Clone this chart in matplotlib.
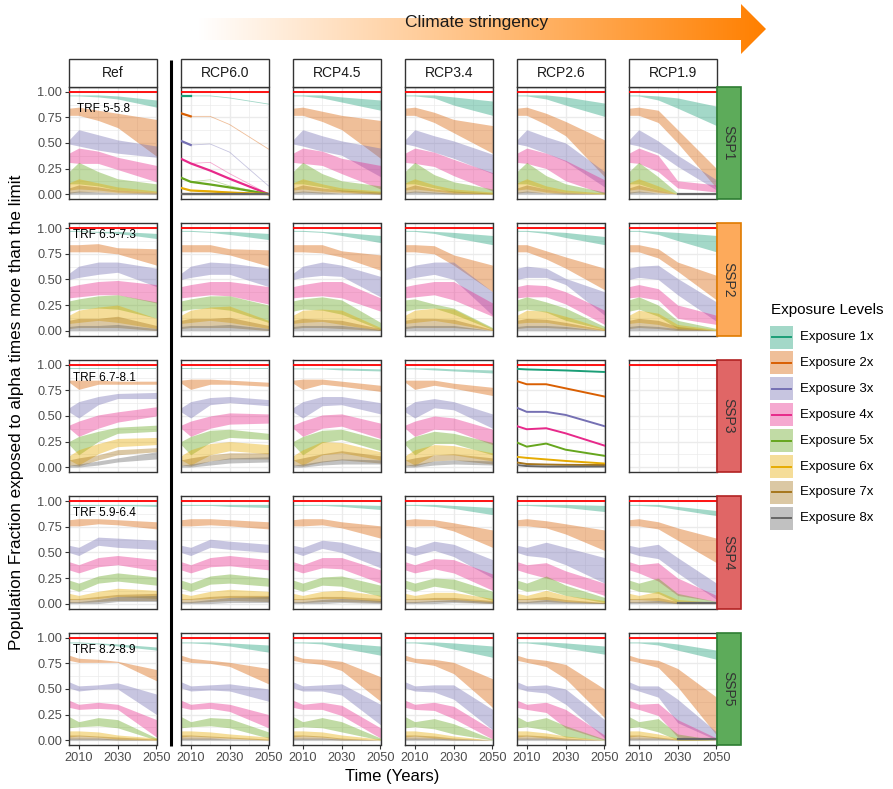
import numpy as np
import matplotlib
matplotlib.use("Agg")
from matplotlib import pyplot as plt
from matplotlib.patches import Rectangle, Polygon

plt.rcParams["font.family"] = ["Liberation Sans", "DejaVu Sans"]

W, H = 893, 789

years = [2005, 2010, 2020, 2030, 2050]
levels = ["Exposure 1x", "Exposure 2x", "Exposure 3x", "Exposure 4x",
          "Exposure 5x", "Exposure 6x", "Exposure 7x", "Exposure 8x"]
colors = ["#1B9E77", "#D95F02", "#7570B3", "#E7298A",
          "#66A61E", "#E6AB02", "#A6761D", "#666666"]
scenarios = ["Ref", "RCP6.0", "RCP4.5", "RCP3.4", "RCP2.6", "RCP1.9"]
ssps = ["SSP1", "SSP2", "SSP3", "SSP4", "SSP5"]
trf_labels = ["TRF 5-5.8", "TRF 6.5-7.3", "TRF 6.7-8.1", "TRF 5.9-6.4", "TRF 8.2-8.9"]
trf_x = [2009, 2007, 2007, 2007, 2007]
trf_y = [0.83, 0.93, 0.87, 0.89, 0.88]
strip_fill = ["#5DAB5A", "#FDAA5B", "#E06666", "#E06666", "#5DAB5A"]
strip_edge = ["#2E7D32", "#E07B00", "#B22222", "#B22222", "#2E7D32"]

# each band: (low, high) per exposure level over `years`
ssp1_ref = [
    ([.96, .96, .95, .93, .85], [.97, .97, .97, .96, .92]),
    ([.77, .77, .72, .65, .37], [.84, .85, .82, .79, .73]),
    ([.49, .47, .43, .40, .36], [.53, .63, .58, .53, .47]),
    ([.31, .30, .30, .24, .12], [.40, .45, .42, .36, .28]),
    ([.10, .10, .08, .04, .02], [.22, .31, .22, .15, .10]),
    ([.04, .05, .04, .02, .01], [.11, .15, .11, .07, .03]),
    ([.01, .02, .02, .01, .00], [.06, .09, .07, .04, .02]),
    ([.00, .00, .00, .00, .00], [.02, .03, .02, .01, .01]),
]
# single-model run: thin path plus thick segments
ssp1_rcp60_path = [
    [.96, .96, .96, .94, .88],
    [.79, .76, .76, .68, .44],
    [.52, .48, .49, .41, .08],
    [.345, .30, .31, .20, .00],
    [.16, .12, .14, .08, .00],
    [.06, .035, .03, .02, .00],
    [.00, .00, .00, .00, .00],
    [.00, .00, .00, .00, .00],
]
ssp1_rcp60_line = [
    [.96, .96, None, None, None],
    [.79, .76, None, None, None],
    [.52, .48, None, None, None],
    [.345, .30, .23, .15, .00],
    [.16, .12, .094, .065, .00],
    [.06, .035, .026, .015, .00],
    [.00, .00, .00, .00, .00],
    [.00, .00, .00, .00, .00],
]
ssp1_rcp45 = [
    ([.96, .96, .94, .90, .82], [.97, .97, .97, .95, .92]),
    ([.77, .77, .71, .63, .35], [.84, .85, .81, .77, .72]),
    ([.49, .47, .42, .38, .17], [.53, .63, .57, .52, .45]),
    ([.31, .30, .28, .20, .05], [.40, .45, .42, .35, .28]),
    ([.10, .10, .07, .03, .01], [.22, .31, .20, .13, .08]),
    ([.04, .05, .03, .02, .00], [.11, .15, .10, .06, .03]),
    ([.01, .02, .01, .01, .00], [.06, .09, .06, .04, .02]),
    ([.00, .00, .00, .00, .00], [.02, .03, .02, .01, .01]),
]
ssp1_rcp34 = [
    ([.96, .96, .94, .87, .77], [.97, .97, .97, .95, .91]),
    ([.77, .77, .70, .60, .40], [.84, .85, .80, .73, .67]),
    ([.49, .47, .41, .35, .20], [.53, .63, .57, .52, .39]),
    ([.31, .30, .27, .18, .03], [.40, .45, .41, .34, .21]),
    ([.10, .10, .06, .02, .00], [.22, .31, .19, .12, .05]),
    ([.04, .05, .03, .01, .00], [.11, .15, .09, .05, .02]),
    ([.01, .02, .01, .00, .00], [.06, .09, .05, .03, .01]),
    ([.00, .00, .00, .00, .00], [.02, .03, .02, .01, .00]),
]
ssp1_rcp26 = [
    ([.96, .96, .93, .87, .76], [.97, .97, .97, .95, .89]),
    ([.77, .77, .68, .57, .17], [.84, .85, .79, .71, .53]),
    ([.49, .47, .40, .32, .07], [.53, .63, .56, .50, .22]),
    ([.31, .30, .25, .13, .00], [.40, .45, .40, .33, .14]),
    ([.10, .10, .05, .02, .00], [.22, .31, .18, .10, .02]),
    ([.04, .05, .02, .01, .00], [.11, .15, .08, .04, .01]),
    ([.01, .02, .01, .00, .00], [.06, .09, .05, .02, .00]),
    ([.00, .00, .00, .00, .00], [.02, .03, .01, .01, .00]),
]
ssp1_rcp19 = [
    ([.96, .96, .92, .84, .67], [.97, .97, .96, .94, .86]),
    ([.77, .77, .70, .50, .06], [.84, .85, .82, .63, .25]),
    ([.49, .47, .40, .27, .04], [.53, .63, .52, .38, .14]),
    ([.31, .30, .22, .06, .02], [.40, .45, .38, .13, .09]),
    ([.10, .10, .04, .00, .00], [.22, .31, .17, .01, .00]),
    ([.04, .05, .02, .00, .00], [.11, .15, .08, .00, .00]),
    ([.01, .02, .01, .00, .00], [.06, .09, .04, .00, .00]),
    ([.00, .00, .00, .00, .00], [.02, .03, .01, .00, .00]),
]

ssp2_ref = [
    ([.97, .97, .96, .95, .90], [.98, .98, .97, .97, .95]),
    ([.77, .77, .77, .75, .64], [.84, .84, .85, .81, .80]),
    ([.50, .52, .55, .57, .43], [.56, .63, .67, .67, .61]),
    ([.32, .33, .35, .35, .27], [.43, .45, .48, .49, .45]),
    ([.19, .21, .22, .21, .12], [.29, .31, .34, .35, .28]),
    ([.07, .08, .10, .08, .02], [.15, .20, .23, .25, .12]),
    ([.02, .03, .03, .03, .00], [.10, .12, .12, .14, .05]),
    ([.00, .00, .00, .00, .00], [.04, .05, .05, .06, .02]),
]
ssp2_rcp60 = [
    ([.97, .97, .96, .94, .89], [.98, .98, .97, .97, .95]),
    ([.77, .77, .77, .74, .63], [.84, .84, .84, .80, .79]),
    ([.50, .52, .55, .55, .43], [.56, .63, .67, .66, .61]),
    ([.32, .33, .35, .34, .26], [.43, .45, .48, .48, .43]),
    ([.19, .21, .22, .20, .08], [.29, .31, .34, .34, .25]),
    ([.07, .08, .10, .08, .02], [.15, .20, .23, .24, .10]),
    ([.02, .03, .03, .03, .00], [.10, .12, .12, .13, .05]),
    ([.00, .00, .00, .00, .00], [.04, .05, .05, .06, .02]),
]
ssp2_rcp45 = [
    ([.97, .97, .96, .93, .86], [.98, .98, .97, .96, .93]),
    ([.77, .77, .76, .72, .59], [.84, .84, .84, .78, .74]),
    ([.50, .52, .54, .53, .33], [.56, .63, .67, .64, .53]),
    ([.32, .33, .34, .32, .19], [.43, .45, .48, .48, .32]),
    ([.19, .21, .20, .16, .01], [.29, .31, .33, .30, .08]),
    ([.07, .08, .09, .06, .00], [.15, .20, .21, .20, .03]),
    ([.02, .03, .03, .02, .00], [.10, .12, .11, .10, .02]),
    ([.00, .00, .00, .00, .00], [.04, .05, .05, .05, .01]),
]
ssp2_rcp34 = [
    ([.97, .97, .95, .91, .84], [.98, .98, .97, .96, .93]),
    ([.77, .77, .75, .64, .38], [.84, .84, .83, .74, .64]),
    ([.50, .52, .55, .50, .15], [.61, .64, .67, .67, .38]),
    ([.32, .33, .35, .30, .14], [.43, .45, .48, .48, .27]),
    ([.19, .21, .22, .16, .01], [.30, .31, .26, .22, .03]),
    ([.07, .08, .10, .07, .00], [.15, .20, .22, .21, .02]),
    ([.02, .03, .03, .03, .00], [.10, .12, .12, .11, .01]),
    ([.00, .00, .00, .00, .00], [.04, .05, .05, .05, .00]),
]
ssp2_rcp26 = [
    ([.97, .97, .95, .91, .84], [.98, .98, .97, .96, .92]),
    ([.77, .77, .70, .61, .40], [.84, .84, .78, .72, .61]),
    ([.50, .52, .52, .45, .15], [.61, .63, .61, .51, .38]),
    ([.32, .33, .33, .26, .06], [.43, .45, .44, .38, .20]),
    ([.19, .21, .18, .10, .01], [.30, .33, .28, .22, .04]),
    ([.07, .08, .08, .05, .00], [.15, .20, .19, .14, .02]),
    ([.02, .03, .03, .02, .00], [.10, .12, .11, .08, .01]),
    ([.00, .00, .00, .00, .00], [.04, .05, .05, .04, .00]),
]
ssp2_rcp19 = [
    ([.97, .97, .94, .88, .77], [.98, .98, .97, .96, .93]),
    ([.77, .77, .71, .58, .30], [.84, .84, .80, .67, .54]),
    ([.50, .52, .50, .35, .09], [.61, .63, .64, .51, .28]),
    ([.32, .33, .30, .12, .06], [.43, .45, .41, .25, .15]),
    ([.19, .21, .14, .02, .00], [.30, .33, .25, .10, .02]),
    ([.07, .08, .06, .01, .00], [.15, .20, .17, .06, .01]),
    ([.02, .03, .02, .00, .00], [.10, .12, .10, .04, .00]),
    ([.00, .00, .00, .00, .00], [.04, .05, .04, .02, .00]),
]

ssp3_ref = [
    ([.96, .96, .96, .96, .96], [.97, .97, .97, .97, .97]),
    ([.83, .76, .81, .81, .81], [.85, .85, .85, .84, .84]),
    ([.54, .48, .61, .67, .67], [.58, .64, .69, .72, .73]),
    ([.38, .30, .38, .44, .50], [.41, .45, .51, .54, .59]),
    ([.22, .12, .25, .33, .35], [.25, .30, .35, .39, .41]),
    ([.07, .02, .13, .20, .22], [.11, .17, .23, .28, .29]),
    ([.02, .01, .07, .12, .15], [.07, .09, .12, .17, .19]),
    ([.00, .00, .02, .05, .08], [.02, .03, .06, .09, .15]),
]
ssp3_rcp60 = [
    ([.96, .96, .96, .96, .96], [.97, .97, .97, .97, .97]),
    ([.82, .76, .81, .81, .79], [.85, .86, .86, .85, .83]),
    ([.54, .48, .61, .63, .60], [.58, .64, .68, .69, .66]),
    ([.38, .30, .38, .42, .43], [.41, .45, .50, .53, .52]),
    ([.22, .12, .24, .29, .27], [.25, .30, .36, .37, .33]),
    ([.07, .02, .12, .16, .13], [.11, .17, .23, .25, .22]),
    ([.02, .01, .06, .08, .08], [.07, .09, .12, .14, .14]),
    ([.00, .00, .02, .04, .05], [.02, .03, .06, .09, .10]),
]
ssp3_rcp45 = [
    ([.96, .96, .96, .95, .94], [.97, .97, .97, .97, .96]),
    ([.82, .76, .81, .79, .74], [.85, .86, .86, .84, .80]),
    ([.54, .48, .60, .61, .52], [.58, .64, .69, .69, .63]),
    ([.38, .30, .38, .40, .28], [.41, .45, .51, .52, .43]),
    ([.22, .12, .24, .27, .16], [.25, .30, .36, .37, .27]),
    ([.07, .02, .12, .14, .07], [.11, .17, .25, .24, .15]),
    ([.02, .01, .05, .07, .04], [.07, .09, .13, .16, .11]),
    ([.00, .00, .02, .03, .03], [.02, .03, .06, .08, .07]),
]
ssp3_rcp34 = [
    ([.96, .96, .95, .94, .92], [.97, .97, .97, .96, .95]),
    ([.83, .76, .80, .77, .70], [.85, .85, .85, .82, .78]),
    ([.54, .48, .58, .56, .38], [.58, .64, .67, .64, .52]),
    ([.38, .30, .37, .36, .22], [.41, .45, .50, .48, .37]),
    ([.22, .12, .23, .23, .12], [.25, .30, .35, .33, .24]),
    ([.07, .02, .12, .12, .06], [.11, .17, .22, .21, .14]),
    ([.02, .01, .06, .07, .03], [.07, .09, .12, .13, .09]),
    ([.00, .00, .02, .03, .02], [.02, .03, .06, .07, .06]),
]
# single-model run drawn as lines
ssp3_rcp26_line = [
    [.96, .955, .95, .945, .93],
    [.84, .81, .81, .77, .69],
    [.58, .54, .54, .51, .40],
    [.40, .37, .38, .33, .21],
    [.24, .20, .23, .17, .11],
    [.10, .09, .075, .06, .035],
    [.045, .03, .025, .022, .02],
    [.02, .01, .005, .005, .005],
]

ssp4_ref = [
    ([.96, .96, .96, .96, .95], [.97, .97, .97, .97, .97]),
    ([.76, .76, .78, .77, .73], [.82, .83, .83, .82, .80]),
    ([.50, .47, .57, .55, .53], [.57, .55, .65, .64, .62]),
    ([.33, .30, .36, .38, .32], [.41, .38, .45, .47, .43]),
    ([.15, .12, .20, .22, .18], [.23, .20, .27, .30, .26]),
    ([.04, .04, .05, .07, .05], [.10, .08, .12, .15, .13]),
    ([.01, .01, .02, .03, .03], [.05, .05, .07, .09, .10]),
    ([.00, .00, .00, .02, .02], [.02, .02, .04, .07, .08]),
]
ssp4_rcp60 = [
    ([.96, .96, .96, .95, .94], [.97, .97, .97, .97, .97]),
    ([.76, .76, .77, .76, .73], [.82, .83, .83, .82, .80]),
    ([.50, .47, .55, .53, .50], [.57, .55, .63, .61, .58]),
    ([.33, .30, .36, .37, .33], [.41, .38, .45, .47, .43]),
    ([.15, .12, .19, .20, .17], [.23, .20, .27, .29, .25]),
    ([.04, .04, .05, .06, .05], [.10, .08, .12, .14, .12]),
    ([.01, .01, .02, .03, .02], [.05, .05, .07, .08, .08]),
    ([.00, .00, .00, .01, .01], [.02, .02, .04, .06, .07]),
]
ssp4_rcp45 = [
    ([.96, .96, .96, .95, .92], [.97, .97, .97, .97, .96]),
    ([.76, .76, .77, .74, .64], [.82, .83, .83, .80, .76]),
    ([.50, .47, .54, .50, .35], [.57, .55, .62, .60, .50]),
    ([.33, .30, .35, .34, .20], [.41, .38, .45, .45, .33]),
    ([.15, .12, .18, .17, .07], [.23, .20, .26, .27, .18]),
    ([.04, .04, .05, .05, .02], [.10, .08, .12, .13, .08]),
    ([.01, .01, .02, .02, .01], [.05, .05, .07, .07, .05]),
    ([.00, .00, .00, .01, .00], [.02, .02, .04, .05, .03]),
]
ssp4_rcp34 = [
    ([.96, .96, .95, .93, .87], [.97, .97, .97, .96, .94]),
    ([.76, .76, .76, .71, .55], [.82, .83, .82, .79, .72]),
    ([.50, .47, .52, .46, .25], [.57, .55, .61, .58, .43]),
    ([.33, .30, .34, .30, .13], [.41, .38, .44, .43, .29]),
    ([.15, .12, .17, .14, .03], [.23, .20, .25, .24, .12]),
    ([.04, .04, .04, .04, .01], [.10, .08, .11, .11, .05]),
    ([.01, .01, .02, .02, .00], [.05, .05, .06, .06, .03]),
    ([.00, .00, .00, .01, .00], [.02, .02, .03, .04, .02]),
]
ssp4_rcp26 = [
    ([.96, .96, .95, .94, .90], [.97, .97, .97, .97, .96]),
    ([.76, .76, .74, .68, .52], [.82, .83, .81, .78, .72]),
    ([.50, .47, .45, .38, .20], [.57, .55, .60, .55, .45]),
    ([.33, .30, .25, .20, .08], [.41, .38, .40, .32, .20]),
    ([.15, .12, .14, .08, .01], [.23, .20, .27, .18, .06]),
    ([.04, .04, .04, .02, .00], [.10, .08, .13, .08, .03]),
    ([.01, .01, .02, .01, .00], [.05, .05, .07, .04, .01]),
    ([.00, .00, .00, .00, .00], [.02, .02, .04, .02, .01]),
]
ssp4_rcp19 = [
    ([.96, .96, .95, .92, .86], [.97, .97, .97, .95, .91]),
    ([.76, .76, .73, .62, .40], [.82, .83, .80, .74, .64]),
    ([.50, .47, .44, .30, .04], [.57, .55, .58, .45, .20]),
    ([.33, .30, .22, .08, .02], [.41, .38, .40, .25, .08]),
    ([.15, .12, .10, .01, .00], [.23, .20, .25, .10, .02]),
    ([.04, .04, .03, .00, .00], [.10, .08, .12, .04, .01]),
    ([.01, .01, .01, .00, .00], [.05, .05, .06, .02, .00]),
    ([.00, .00, .00, .00, .00], [.02, .02, .03, .01, .00]),
]

ssp5_ref = [
    ([.95, .95, .94, .92, .88], [.96, .96, .95, .94, .91]),
    ([.78, .76, .76, .76, .58], [.83, .80, .79, .77, .69]),
    ([.51, .48, .50, .50, .25], [.57, .53, .54, .56, .45]),
    ([.32, .30, .31, .30, .03], [.39, .35, .37, .35, .20]),
    ([.12, .13, .14, .12, .00], [.23, .18, .22, .20, .02]),
    ([.03, .04, .03, .01, .00], [.09, .09, .08, .05, .02]),
    ([.01, .01, .01, .00, .00], [.05, .05, .04, .03, .01]),
    ([.00, .00, .00, .00, .00], [.02, .02, .02, .01, .00]),
]
ssp5_rcp60 = [
    ([.95, .95, .94, .92, .86], [.96, .96, .96, .95, .93]),
    ([.78, .76, .75, .72, .55], [.83, .80, .78, .76, .70]),
    ([.51, .48, .49, .48, .38], [.57, .53, .54, .55, .50]),
    ([.32, .30, .31, .28, .12], [.39, .35, .37, .35, .25]),
    ([.12, .13, .14, .12, .02], [.23, .18, .22, .21, .08]),
    ([.03, .04, .03, .02, .00], [.09, .09, .08, .06, .03]),
    ([.01, .01, .01, .01, .00], [.05, .05, .04, .03, .01]),
    ([.00, .00, .00, .00, .00], [.02, .02, .02, .01, .00]),
]
ssp5_rcp45 = [
    ([.95, .95, .94, .90, .83], [.96, .96, .96, .95, .92]),
    ([.78, .76, .74, .68, .38], [.83, .80, .79, .77, .62]),
    ([.51, .48, .48, .44, .15], [.57, .53, .54, .55, .35]),
    ([.32, .30, .30, .24, .02], [.39, .35, .37, .34, .12]),
    ([.12, .13, .12, .08, .00], [.23, .18, .22, .18, .02]),
    ([.03, .04, .03, .01, .00], [.09, .09, .08, .05, .01]),
    ([.01, .01, .01, .00, .00], [.05, .05, .04, .02, .00]),
    ([.00, .00, .00, .00, .00], [.02, .02, .02, .01, .00]),
]
ssp5_rcp34 = [
    ([.95, .95, .93, .89, .81], [.96, .96, .96, .95, .92]),
    ([.78, .76, .73, .65, .32], [.83, .80, .79, .76, .60]),
    ([.51, .48, .47, .40, .10], [.57, .53, .54, .54, .30]),
    ([.32, .30, .29, .21, .01], [.39, .35, .37, .33, .10]),
    ([.12, .13, .11, .06, .00], [.23, .18, .21, .16, .01]),
    ([.03, .04, .02, .01, .00], [.09, .09, .07, .04, .00]),
    ([.01, .01, .01, .00, .00], [.05, .05, .04, .02, .00]),
    ([.00, .00, .00, .00, .00], [.02, .02, .02, .01, .00]),
]
ssp5_rcp26 = [
    ([.95, .95, .93, .90, .84], [.96, .96, .96, .95, .92]),
    ([.78, .76, .72, .60, .22], [.83, .80, .78, .74, .50]),
    ([.51, .48, .46, .35, .02], [.57, .53, .54, .50, .20]),
    ([.32, .30, .27, .12, .00], [.39, .35, .37, .30, .05]),
    ([.12, .13, .10, .03, .00], [.23, .18, .22, .14, .01]),
    ([.03, .04, .02, .01, .00], [.09, .09, .07, .04, .00]),
    ([.01, .01, .01, .00, .00], [.05, .05, .04, .02, .00]),
    ([.00, .00, .00, .00, .00], [.02, .02, .02, .01, .00]),
]
ssp5_rcp19 = [
    ([.95, .95, .93, .88, .79], [.96, .96, .96, .94, .88]),
    ([.78, .76, .71, .52, .05], [.83, .80, .78, .70, .42]),
    ([.51, .48, .42, .17, .00], [.57, .53, .53, .40, .08]),
    ([.32, .30, .24, .03, .00], [.39, .35, .36, .20, .02]),
    ([.12, .13, .08, .00, .00], [.23, .18, .21, .06, .00]),
    ([.03, .04, .02, .00, .00], [.09, .09, .06, .02, .00]),
    ([.01, .01, .01, .00, .00], [.05, .05, .03, .01, .00]),
    ([.00, .00, .00, .00, .00], [.02, .02, .02, .00, .00]),
]

# RCP1.9: exposure 8x series that continues on its own after 2030
floor_years = [2030, 2050]
floor_ssp1 = [0.0, 0.0]
floor_ssp4 = [0.01, 0.01]
floor_ssp5 = [0.01, 0.01]

bands = {
    ("SSP1", "Ref"): ssp1_ref, ("SSP1", "RCP4.5"): ssp1_rcp45,
    ("SSP1", "RCP3.4"): ssp1_rcp34, ("SSP1", "RCP2.6"): ssp1_rcp26,
    ("SSP1", "RCP1.9"): ssp1_rcp19,
    ("SSP2", "Ref"): ssp2_ref, ("SSP2", "RCP6.0"): ssp2_rcp60,
    ("SSP2", "RCP4.5"): ssp2_rcp45, ("SSP2", "RCP3.4"): ssp2_rcp34,
    ("SSP2", "RCP2.6"): ssp2_rcp26, ("SSP2", "RCP1.9"): ssp2_rcp19,
    ("SSP3", "Ref"): ssp3_ref, ("SSP3", "RCP6.0"): ssp3_rcp60,
    ("SSP3", "RCP4.5"): ssp3_rcp45, ("SSP3", "RCP3.4"): ssp3_rcp34,
    ("SSP4", "Ref"): ssp4_ref, ("SSP4", "RCP6.0"): ssp4_rcp60,
    ("SSP4", "RCP4.5"): ssp4_rcp45, ("SSP4", "RCP3.4"): ssp4_rcp34,
    ("SSP4", "RCP2.6"): ssp4_rcp26, ("SSP4", "RCP1.9"): ssp4_rcp19,
    ("SSP5", "Ref"): ssp5_ref, ("SSP5", "RCP6.0"): ssp5_rcp60,
    ("SSP5", "RCP4.5"): ssp5_rcp45, ("SSP5", "RCP3.4"): ssp5_rcp34,
    ("SSP5", "RCP2.6"): ssp5_rcp26, ("SSP5", "RCP1.9"): ssp5_rcp19,
}
floors = {("SSP1", "RCP1.9"): floor_ssp1, ("SSP4", "RCP1.9"): floor_ssp4,
          ("SSP5", "RCP1.9"): floor_ssp5}

fig = plt.figure(figsize=(W / 100, H / 100), dpi=100)


def px_axes(x0, y0, w, h, **kw):
    return fig.add_axes([x0 / W, 1 - (y0 + h) / H, w / W, h / H], **kw)


col_left = [69 + 112 * i for i in range(6)]
row_top = [86.7 + 136.5 * j for j in range(5)]
pw, ph = 87.5, 112.5

for r, ssp in enumerate(ssps):
    for c, sc in enumerate(scenarios):
        ax = px_axes(col_left[c], row_top[r], pw, ph)
        ax.set_xlim(2005, 2050)
        ax.set_ylim(-0.05, 1.05)
        ax.set_xticks([2010, 2030, 2050])
        ax.set_xticks([2020, 2040], minor=True)
        ax.set_yticks([0, 0.25, 0.5, 0.75, 1.0])
        ax.set_yticks([0.125, 0.375, 0.625, 0.875], minor=True)
        ax.set_yticklabels(["0.00", "0.25", "0.50", "0.75", "1.00"])
        ax.grid(which="major", color="#EBEBEB", lw=1.0)
        ax.grid(which="minor", color="#EBEBEB", lw=0.5)
        ax.set_axisbelow(True)
        for s in ax.spines.values():
            s.set_color("#333333")
            s.set_linewidth(1.0)
        ax.tick_params(which="minor", length=0)
        ax.tick_params(which="major", length=3, width=0.8, color="#333333",
                       labelsize=9.2, labelcolor="#4D4D4D", pad=2,
                       left=(c == 0), labelleft=(c == 0),
                       bottom=(r == 4), labelbottom=(r == 4))

        key = (ssp, sc)
        if key in bands:
            for k, (lo, hi) in enumerate(bands[key]):
                ax.fill_between(years, lo, hi, color=colors[k], alpha=0.4, lw=0, zorder=2)
        elif key == ("SSP1", "RCP6.0"):
            for k in range(8):
                ax.plot(years, ssp1_rcp60_path[k], color=colors[k], lw=0.6, alpha=0.4, zorder=2)
                ax.plot(years, np.array(ssp1_rcp60_line[k], dtype=float),
                        color=colors[k], lw=1.6, zorder=3)
        elif key == ("SSP3", "RCP2.6"):
            for k in range(8):
                ax.plot(years, ssp3_rcp26_line[k], color=colors[k], lw=1.4, zorder=3)
        if key in floors:
            ax.plot(floor_years, floors[key], color=colors[7], lw=1.6, zorder=3)

        ax.axhline(1.0, color="red", lw=1.3, zorder=4)

        if c == 0:
            ax.text(trf_x[r], trf_y[r], trf_labels[r], fontsize=8.5, color="black",
                    ha="left", va="center", zorder=5)

# overlay for strips, arrow, divider and legend
ov = px_axes(0, 0, W, H, zorder=10)
ov.patch.set_alpha(0)

for c, sc in enumerate(scenarios):
    ov.add_patch(Rectangle((col_left[c], 59), pw, row_top[0] - 59, facecolor="white",
                           edgecolor="#333333", lw=1.0))
    ov.text(col_left[c] + pw / 2, (59 + row_top[0]) / 2, sc, fontsize=10,
            color="#1A1A1A", ha="center", va="center")

sx = col_left[5] + pw
for r, ssp in enumerate(ssps):
    ov.add_patch(Rectangle((sx, row_top[r]), 24.5, ph, facecolor=strip_fill[r],
                           edgecolor=strip_edge[r], lw=1.2))
    ov.text(sx + 12.25, row_top[r] + ph / 2, ssp, fontsize=10, color="#333333",
            rotation=-90, ha="center", va="center")

# vertical divider between reference and policy scenarios
ov.plot([171, 171], [60, 746], color="black", lw=2.2, solid_capstyle="butt")

# gradient arrow
arrow = Polygon([(198, 18), (741, 18), (741, 4), (766, 29), (741, 54), (741, 40), (198, 40)],
                closed=True, facecolor="none", edgecolor="none")
ov.add_patch(arrow)
t = np.linspace(0, 1, 256)
c0 = np.array([1.0, 1.0, 1.0])
c1 = np.array([1.0, 0.5, 0.0])
grad = (c0 + (c1 - c0) * t[:, None])[None, :, :]
im = ov.imshow(grad, extent=[198, 766, 54, 4], aspect="auto", zorder=1)
im.set_clip_path(arrow)
ov.text(477, 22, "Climate stringency", fontsize=12.5, color="#1A1A1A",
        ha="center", va="center", zorder=2)

# axis titles
ov.text(17, 412, "Population Fraction exposed to alpha times more than the limit",
        fontsize=12.3, rotation=90, ha="center", va="center", color="black")
ov.text(392, 776, "Time (Years)", fontsize=12, ha="center", va="center", color="black")

# legend
ov.text(771, 310, "Exposure Levels", fontsize=11, ha="left", va="center", color="black")
for k, lab in enumerate(levels):
    yc = 337 + 25.9 * k
    ov.add_patch(Rectangle((770, yc - 11.5), 23, 23, facecolor=colors[k], alpha=0.4, lw=0))
    ov.plot([772, 791], [yc, yc], color=colors[k], lw=1.4)
    ov.text(800, yc, lab, fontsize=9.5, ha="left", va="center", color="black")

ov.set_xlim(0, W)
ov.set_ylim(H, 0)
ov.axis("off")

fig.savefig("out.png", dpi=100)
